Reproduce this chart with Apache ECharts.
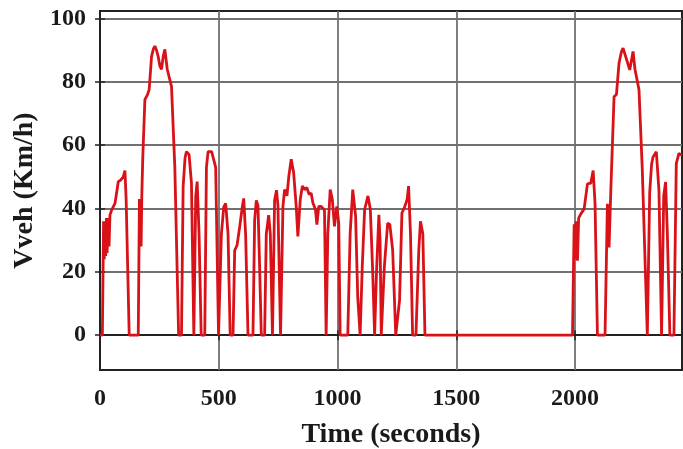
<!DOCTYPE html>
<html>
<head>
<meta charset="utf-8">
<script src="https://cdn.jsdelivr.net/npm/echarts@6/dist/echarts.min.js"></script>
<style>
  html, body { margin: 0; padding: 0; background: #fff; }
  #chart { width: 683px; height: 449px; }
</style>
</head>
<body>
<div id="chart"></div>
<script>
// first cycle (time in s, speed in km/h)
const cycle1Time = [0, 10, 15, 18, 21, 24, 27, 30, 34, 38, 42, 49, 63, 72, 77, 87, 98, 105, 110, 123,
  161, 166, 170, 173, 176, 180, 189, 200, 207, 217, 225, 231, 238, 245, 252, 259, 266, 273, 283, 301, 315, 331,
  343, 350, 358, 364, 370, 375, 385, 395, 403, 409, 417, 426, 441, 448, 455, 470, 476, 487, 499,
  511, 521, 529, 539, 548, 560, 567, 577, 588, 599, 605, 613, 623, 644, 651, 658, 665, 672, 679,
  693, 700, 710, 717, 726, 735, 743, 749, 760, 770, 777, 787, 795, 805, 815, 826, 833, 843, 852,
  861, 871, 880, 889, 896, 907, 913, 921, 931, 945, 952, 959, 969, 978, 987, 997, 1005, 1011,
  1043, 1053, 1064, 1076, 1085, 1095, 1104, 1114, 1128, 1138, 1148, 1156, 1164, 1174, 1179, 1184,
  1197, 1211, 1220, 1232, 1245, 1261, 1271, 1281, 1293, 1299, 1307, 1316, 1330, 1342, 1349, 1359, 1368];
const cycle1Speed = [0, 0, 36, 24, 36, 25, 37, 26, 37, 28, 38, 39.5, 41.6, 46, 48.5, 49, 50, 52, 43, 0,
  0, 43, 36, 28, 44, 56, 74.4, 76, 77.6, 88, 90.5, 91.3, 90, 88, 85, 84, 88, 90.3, 84, 78.6, 53, 0,
  0, 46.9, 56, 58, 58.5, 57, 48, 0, 44, 48.5, 32, 0, 0, 53, 58, 58, 57.5, 53, 0,
  32, 40.5, 41.6, 32, 0, 0, 26.8, 28.4, 34.2, 40.5, 43.2, 32, 0, 0, 36.3, 42.6, 41, 21.5, 0,
  0, 32, 37.9, 32, 0, 42.6, 45.8, 41, 0, 40.5, 46, 44, 50.3, 55.6, 51.4, 40.7, 31.2, 42.9, 47.1,
  46, 46.6, 44.5, 44.8, 41.8, 39.7, 34.9, 40.7, 40.7, 39.5, 0, 32, 46, 42.9, 34.4, 40.7, 35.4, 0,
  0, 32, 46, 37.6, 12, 0, 21.6, 39.7, 44, 39.7, 20, 0, 20, 38, 30, 0,
  21.6, 35.4, 35, 26.9, 0, 11, 38.6, 40.2, 42.9, 47.1, 32.2, 0, 0, 26.9, 36, 32, 0];

// second cycle (starts after the idle period)
const cycle2Time = [1989, 1996, 2000, 2004, 2010, 2015, 2024, 2038, 2052, 2066, 2076, 2084, 2094,
  2126, 2136, 2143, 2150, 2164, 2174, 2185, 2195, 2202, 2213, 2230, 2244, 2252, 2269, 2283, 2304,
  2314, 2322, 2328, 2342, 2353, 2364, 2373, 2381, 2388, 2399, 2416, 2426, 2437, 2450];
const cycle2Speed = [0, 35, 24, 36, 23.5, 37, 38.3, 39.9, 47.8, 48, 52, 41.5, 0,
  0, 41.5, 27.7, 45, 75.3, 76, 86, 89.5, 90.7, 88, 83.8, 89.6, 84, 77.5, 52, 0,
  45, 54, 56.3, 57.9, 45.7, 0, 44, 48.4, 33, 0, 0, 54.2, 57.4, 56.8];

const xTicks = [0, 500, 1000, 1500, 2000];
const yTicks = [0, 20, 40, 60, 80, 100];

const seriesData = [];
cycle1Time.forEach((t, i) => seriesData.push([t, cycle1Speed[i]]));
cycle2Time.forEach((t, i) => seriesData.push([t, cycle2Speed[i]]));

const font = "Liberation Serif";
const chart = echarts.init(document.getElementById("chart"));
chart.setOption({
  animation: false,
  grid: {
    left: 100, right: 1, top: 11, bottom: 79,
    outerBoundsMode: "none",
    show: true, borderColor: "#222", borderWidth: 2, backgroundColor: "#fff"
  },
  xAxis: [{
    type: "value",
    min: 0, max: 2450,
    name: "Time (seconds)",
    nameLocation: "middle",
    nameGap: 51,
    nameTextStyle: { fontFamily: font, fontWeight: "bold", fontSize: 28, color: "#1a1a1a" },
    axisLine: { lineStyle: { color: "#222", width: 2 } },
    axisTick: { inside: true, length: 5, customValues: xTicks, lineStyle: { color: "#222", width: 1.5 } },
    axisLabel: {
      margin: 17, customValues: xTicks,
      fontFamily: font, fontWeight: "bold", fontSize: 24, color: "#1a1a1a",
      formatter: (v) => String(v)
    },
    splitLine: { show: true, lineStyle: { color: "#707070", width: 1.8 } }
  }, {
    type: "value", position: "top",
    min: 0, max: 2450,
    axisLine: { show: false },
    axisTick: { inside: true, length: 5, customValues: xTicks, lineStyle: { color: "#222", width: 1.5 } },
    axisLabel: { show: false },
    splitLine: { show: false }
  }],
  yAxis: [{
    type: "value",
    min: -11, max: 102.4,
    name: "Vveh (Km/h)",
    nameLocation: "middle",
    nameGap: 60,
    nameTextStyle: { fontFamily: font, fontWeight: "bold", fontSize: 28, color: "#1a1a1a" },
    axisLine: { show: true, lineStyle: { color: "#222", width: 2 } },
    axisTick: { show: true, inside: true, length: 5, customValues: yTicks, lineStyle: { color: "#222", width: 1.5 } },
    axisLabel: {
      margin: 14, customValues: yTicks,
      fontFamily: font, fontWeight: "bold", fontSize: 24, color: "#1a1a1a"
    },
    splitLine: { show: true, lineStyle: { color: "#707070", width: 1.8 } }
  }, {
    type: "value", position: "right",
    min: -11, max: 102.4,
    axisLine: { show: false },
    axisTick: { show: true, inside: true, length: 5, customValues: yTicks, lineStyle: { color: "#222", width: 1.5 } },
    axisLabel: { show: false },
    splitLine: { show: false }
  }],
  series: [{
    type: "line",
    data: seriesData,
    showSymbol: false,
    symbol: "none",
    lineStyle: { color: "#d81218", width: 2.8 },
    z: 5
  }]
});
</script>
</body>
</html>
